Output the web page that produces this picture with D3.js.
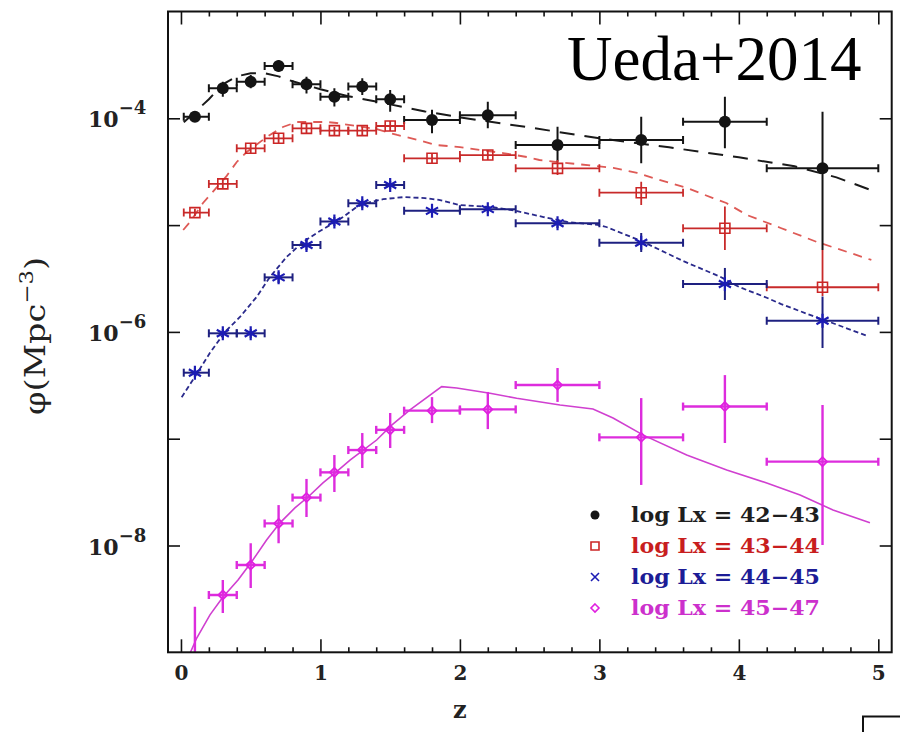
<!DOCTYPE html>
<html>
<head>
<meta charset="utf-8">
<script src="https://cdn.jsdelivr.net/npm/d3@7"></script>
<style>
  html, body { margin: 0; padding: 0; background: #fff; }
  svg { display: block; }
</style>
</head>
<body>
<svg id="chart" width="900" height="732"></svg>
<script>
// ---- redshift bins ----
const zMid = [0.1, 0.3, 0.5, 0.7, 0.9, 1.1, 1.3, 1.5, 1.8, 2.2, 2.7, 3.3, 3.9, 4.6];
const zLo  = [0.02, 0.2, 0.4, 0.6, 0.8, 1.0, 1.2, 1.4, 1.6, 2.0, 2.4, 3.0, 3.6, 4.2];
const zHi  = [0.2, 0.4, 0.6, 0.8, 1.0, 1.2, 1.4, 1.6, 2.0, 2.4, 3.0, 3.6, 4.2, 5.0];

// ---- space densities (Mpc^-3) with lower / upper error limits ----
// log Lx = 42-43
const phi4243   = [1.035e-4, 1.91e-4, 2.20e-4, 3.09e-4, 2.08e-4, 1.59e-4, 1.98e-4, 1.51e-4, 9.64e-5, 1.07e-4, 5.62e-5, 6.27e-5, 9.29e-5, 3.40e-5];
const phi4243Lo = [9.29e-5, 1.59e-4, 1.91e-4, 2.73e-4, 1.71e-4, 1.29e-4, 1.65e-4, 1.15e-4, 7.24e-5, 8.05e-5, 3.93e-5, 3.79e-5, 5.24e-5, 5.85e-6];
const phi4243Hi = [1.12e-4, 2.20e-4, 2.54e-4, 3.52e-4, 2.45e-4, 1.91e-4, 2.37e-4, 1.84e-4, 1.20e-4, 1.43e-4, 8.34e-5, 1.035e-4, 1.59e-4, 1.15e-4];

// log Lx = 43-44
const phi4344   = [1.31e-5, 2.43e-5, 5.24e-5, 6.50e-5, 8.05e-5, 7.66e-5, 7.66e-5, 8.47e-5, 4.22e-5, 4.53e-5, 3.40e-5, 2.01e-5, 9.33e-6, 2.62e-6];
const phi4344Lo = [1.22e-5, 2.18e-5, 4.73e-5, 5.87e-5, 7.28e-5, 6.98e-5, 6.98e-5, 7.60e-5, 3.81e-5, 4.07e-5, 2.94e-5, 1.54e-5, 5.85e-6, 2.17e-6];
const phi4344Hi = [1.42e-5, 2.70e-5, 5.74e-5, 7.13e-5, 8.85e-5, 8.29e-5, 8.29e-5, 9.44e-5, 4.63e-5, 5.05e-5, 4.07e-5, 2.55e-5, 1.49e-5, 5.85e-6];

// log Lx = 44-45
const phi4445   = [4.15e-7, 9.70e-7, 9.70e-7, 3.24e-6, 6.52e-6, 1.08e-5, 1.60e-5, 2.37e-5, 1.36e-5, 1.41e-5, 1.04e-5, 6.84e-6, 2.81e-6, 1.27e-6];
const phi4445Lo = [3.78e-7, 8.77e-7, 8.77e-7, 2.87e-6, 5.85e-6, 9.82e-6, 1.45e-5, 2.18e-5, 1.27e-5, 1.30e-5, 9.40e-6, 5.60e-6, 1.99e-6, 7.06e-7];
const phi4445Hi = [4.59e-7, 1.06e-6, 1.06e-6, 3.64e-6, 7.25e-6, 1.19e-5, 1.75e-5, 2.59e-5, 1.48e-5, 1.51e-5, 1.14e-5, 8.43e-6, 3.97e-6, 2.14e-6];

// log Lx = 45-47
const phi4547   = [4.5e-10, 3.44e-9, 6.56e-9, 1.61e-8, 2.81e-8, 4.84e-8, 7.83e-8, 1.21e-7, 1.83e-7, 1.88e-7, 3.18e-7, 1.03e-7, 2.00e-7, 6.10e-8];
const phi4547Lo = [1.0e-10, 2.33e-9, 4.00e-9, 1.05e-8, 1.85e-8, 3.17e-8, 5.32e-8, 8.18e-8, 1.40e-7, 1.23e-7, 2.21e-7, 3.69e-8, 9.12e-8, 1.01e-8];
const phi4547Hi = [2.67e-9, 4.75e-9, 1.05e-8, 2.39e-8, 4.20e-8, 7.03e-8, 1.13e-7, 1.74e-7, 2.45e-7, 2.74e-7, 4.59e-7, 2.40e-7, 3.94e-7, 2.07e-7];

// ---- model curves ----
const modelZ4243 = [0.02, 0.1, 0.2, 0.3, 0.4, 0.5, 0.6, 0.7, 0.8, 1.0, 1.2, 1.5, 1.75, 2.0, 2.5, 3.0, 3.5, 4.0, 4.4, 4.7, 4.95];
const model4243  = [9.2e-5, 1.14e-4, 1.51e-4, 2.08e-4, 2.47e-4, 2.64e-4, 2.64e-4, 2.47e-4, 2.22e-4, 1.87e-4, 1.61e-4, 1.35e-4, 1.16e-4, 1.02e-4, 8.2e-5, 6.5e-5, 5.35e-5, 4.31e-5, 3.55e-5, 2.80e-5, 2.12e-5];

const modelZ4344 = [0.016, 0.065, 0.158, 0.328, 0.40, 0.471, 0.615, 0.731, 0.83, 0.925, 1.045, 1.116, 1.40, 1.55, 1.70, 1.83, 2.0, 2.14, 2.31, 2.48, 2.57, 3.1, 3.27, 3.43, 3.63, 3.815, 3.91, 4.06, 4.3, 4.56, 4.8, 4.95];
const model4344  = [9.0e-6, 1.07e-5, 1.61e-5, 2.89e-5, 3.90e-5, 4.83e-5, 6.68e-5, 8.29e-5, 9.23e-5, 9.23e-5, 9.23e-5, 9.04e-5, 7.94e-5, 6.98e-5, 6.27e-5, 5.62e-5, 5.38e-5, 5.05e-5, 4.73e-5, 4.34e-5, 4.07e-5, 3.43e-5, 3.08e-5, 2.65e-5, 2.22e-5, 1.79e-5, 1.61e-5, 1.24e-5, 9.40e-6, 6.95e-6, 5.48e-6, 4.72e-6];

const modelZ4445 = [0.005, 0.10, 0.208, 0.316, 0.423, 0.543, 0.638, 0.758, 0.875, 0.973, 1.068, 1.162, 1.26, 1.355, 1.45, 1.6, 1.75, 1.85, 2.0, 2.22, 2.4, 2.6, 2.77, 3.0, 3.05, 3.3, 3.6, 3.87, 4.0, 4.2, 4.3, 4.53, 4.65, 4.92];
const model4445  = [2.45e-7, 3.80e-7, 6.37e-7, 1.00e-6, 1.38e-6, 2.13e-6, 3.27e-6, 5.04e-6, 6.95e-6, 8.43e-6, 1.00e-5, 1.19e-5, 1.48e-5, 1.64e-5, 1.75e-5, 1.83e-5, 1.79e-5, 1.72e-5, 1.54e-5, 1.48e-5, 1.36e-5, 1.19e-5, 1.07e-5, 1.00e-5, 9.60e-6, 7.10e-6, 4.61e-6, 3.27e-6, 2.64e-6, 2.09e-6, 1.83e-6, 1.41e-6, 1.24e-6, 9.18e-7];

const modelZ4547 = [0.04, 0.065, 0.113, 0.208, 0.301, 0.409, 0.507, 0.615, 0.71, 0.817, 0.913, 1.018, 1.116, 1.212, 1.307, 1.403, 1.511, 1.642, 1.869, 1.977, 2.216, 2.407, 2.718, 2.954, 3.098, 3.315, 3.626, 3.913, 4.2, 4.439, 4.675, 4.94];
const model4547  = [7.5e-10, 9.8e-10, 1.36e-9, 2.24e-9, 3.30e-9, 4.75e-9, 7.05e-9, 1.13e-8, 1.63e-8, 2.25e-8, 2.86e-8, 3.85e-8, 4.91e-8, 6.31e-8, 7.83e-8, 9.72e-8, 1.34e-7, 1.86e-7, 3.07e-7, 2.98e-7, 2.66e-7, 2.39e-7, 2.07e-7, 1.90e-7, 1.56e-7, 1.08e-7, 7.03e-8, 5.09e-8, 3.85e-8, 2.97e-8, 2.15e-8, 1.63e-8];

// ---- axis ticks and labels ----
const xMajorTicks = [0, 1, 2, 3, 4, 5];
const xMinorTicks = [0.2, 0.4, 0.6, 0.8, 1.2, 1.4, 1.6, 1.8, 2.2, 2.4, 2.6, 2.8, 3.2, 3.4, 3.6, 3.8, 4.2, 4.4, 4.6, 4.8];
const yTicks = [1e-8, 1e-7, 1e-6, 1e-5, 1e-4];
const yLabelTicks = [1e-4, 1e-6, 1e-8];
const yLabelExp = ["\u22124", "\u22126", "\u22128"];
const legendLabels = ["log Lx = 42\u221243", "log Lx = 43\u221244", "log Lx = 44\u221245", "log Lx = 45\u221247"];
const titleText = "Ueda+2014";

// ---- layout ----
const frame = { left: 168, right: 891.7, top: 11.5, bottom: 652.3 };
const labelFont = "'DejaVu Serif', 'Liberation Serif', serif";
const svg = d3.select("#chart");

const x = d3.scaleLinear().domain([-0.093, 5.096]).range([frame.left, frame.right]);
const y = d3.scaleLog().domain([1e-9, 1e-3]).range([frame.bottom, frame.top]);

svg.append("defs").append("clipPath").attr("id", "plotclip")
  .append("rect")
  .attr("x", frame.left).attr("y", frame.top)
  .attr("width", frame.right - frame.left).attr("height", frame.bottom - frame.top);

const plot = svg.append("g").attr("clip-path", "url(#plotclip)");

// series styling
const series = [
  { v: phi4243, lo: phi4243Lo, hi: phi4243Hi, mz: modelZ4243, m: model4243,
    marker: "circle", color: "#141414", bar: "#141414", line: "#1a1a1a", dash: "15,10", lw: 2.0, bw: 2.0, text: "#1e1e1e" },
  { v: phi4344, lo: phi4344Lo, hi: phi4344Hi, mz: modelZ4344, m: model4344,
    marker: "square", color: "#cc2626", bar: "#c82a2a", line: "#de5a56", dash: "9,7", lw: 1.8, bw: 1.8, text: "#c81e1e" },
  { v: phi4445, lo: phi4445Lo, hi: phi4445Hi, mz: modelZ4445, m: model4445,
    marker: "asterisk", color: "#1c1cb4", bar: "#1e2080", line: "#2a2a8c", dash: "5,3", lw: 1.8, bw: 2.0, text: "#1c1c96" },
  { v: phi4547, lo: phi4547Lo, hi: phi4547Hi, mz: modelZ4547, m: model4547,
    marker: "diamond", color: "#e020e0", bar: "#dd2cdd", line: "#d040d0", dash: null, lw: 1.6, bw: 2.4, text: "#cc30cc" }
];

// model curves
const lineGen = d3.line().x(d => x(d[0])).y(d => y(d[1]));
series.forEach(s => {
  const pts = s.mz.map((z, i) => [z, s.m[i]]);
  const p = plot.append("path")
    .attr("d", lineGen(pts))
    .attr("fill", "none")
    .attr("stroke", s.line)
    .attr("stroke-width", s.lw);
  if (s.dash) p.attr("stroke-dasharray", s.dash);
});

// marker shapes
function markerPath(type, r) {
  const p = d3.path();
  if (type === "square") {
    p.rect(-r, -r, 2 * r, 2 * r);
  } else if (type === "asterisk") {
    for (let k = 0; k < 3; k++) {
      const a = Math.PI / 2 + k * Math.PI / 3;
      p.moveTo(r * Math.cos(a), r * Math.sin(a));
      p.lineTo(-r * Math.cos(a), -r * Math.sin(a));
    }
  } else if (type === "times") {
    p.moveTo(-r, -r); p.lineTo(r, r);
    p.moveTo(-r, r); p.lineTo(r, -r);
  } else if (type === "diamond") {
    p.moveTo(0, -r); p.lineTo(r, 0); p.lineTo(0, r); p.lineTo(-r, 0); p.closePath();
  }
  return p.toString();
}

// error bars and markers
series.forEach(s => {
  const g = plot.append("g");
  zMid.forEach((z, i) => {
    const cy = y(s.v[i]);
    const cx = x(z);
    const xl = x(zLo[i]), xr = x(zHi[i]);
    // horizontal bin bar with end caps
    g.append("line").attr("x1", xl).attr("x2", xr).attr("y1", cy).attr("y2", cy)
      .attr("stroke", s.bar).attr("stroke-width", s.bw);
    [xl, xr].forEach(xc => g.append("line")
      .attr("x1", xc).attr("x2", xc).attr("y1", cy - 4).attr("y2", cy + 4)
      .attr("stroke", s.bar).attr("stroke-width", s.bw));
    // vertical error bar
    g.append("line").attr("x1", cx).attr("x2", cx)
      .attr("y1", y(s.hi[i])).attr("y2", y(s.lo[i]))
      .attr("stroke", s.bar).attr("stroke-width", s.bw);
    // marker
    if (s.marker === "circle") {
      g.append("circle").attr("cx", cx).attr("cy", cy).attr("r", 6).attr("fill", s.color);
    } else if (s.marker === "square") {
      g.append("path").attr("d", markerPath("square", 5)).attr("transform", `translate(${cx},${cy})`)
        .attr("fill", "none").attr("stroke", s.color).attr("stroke-width", 1.6);
    } else if (s.marker === "asterisk") {
      g.append("path").attr("d", markerPath("asterisk", 7)).attr("transform", `translate(${cx},${cy})`)
        .attr("fill", "none").attr("stroke", s.color).attr("stroke-width", 2.2);
    } else {
      g.append("path").attr("d", markerPath("diamond", 4.5)).attr("transform", `translate(${cx},${cy})`)
        .attr("fill", "none").attr("stroke", s.color).attr("stroke-width", 1.8);
    }
  });
});

// ---- axes (ticks point inward) ----
const axisStyle = g => {
  g.select(".domain").remove();
  g.selectAll(".tick line").attr("stroke", "#111").attr("stroke-width", 1.6);
};
svg.append("g").attr("transform", `translate(0,${frame.bottom})`)
  .call(d3.axisBottom(x).tickValues(xMajorTicks).tickSize(-13).tickPadding(14).tickFormat(d3.format("d")))
  .call(axisStyle)
  .call(g => g.selectAll("text").attr("font-family", labelFont)
    .attr("font-weight", "bold").attr("font-size", 20).attr("fill", "#222"));
svg.append("g").attr("transform", `translate(0,${frame.bottom})`)
  .call(d3.axisBottom(x).tickValues(xMinorTicks).tickSize(-5).tickFormat(""))
  .call(axisStyle);
svg.append("g").attr("transform", `translate(0,${frame.top})`)
  .call(d3.axisTop(x).tickValues(xMajorTicks).tickSize(-13).tickFormat(""))
  .call(axisStyle);
svg.append("g").attr("transform", `translate(0,${frame.top})`)
  .call(d3.axisTop(x).tickValues(xMinorTicks).tickSize(-5).tickFormat(""))
  .call(axisStyle);
svg.append("g").attr("transform", `translate(${frame.left},0)`)
  .call(d3.axisLeft(y).tickValues(yTicks).tickSize(-12).tickFormat(""))
  .call(axisStyle);
svg.append("g").attr("transform", `translate(${frame.right},0)`)
  .call(d3.axisRight(y).tickValues(yTicks).tickSize(-12).tickFormat(""))
  .call(axisStyle);

// y tick labels as 10^n
yLabelTicks.forEach((v, i) => {
  const t = svg.append("text")
    .attr("x", 88).attr("y", y(v) + 9)
    .attr("font-family", labelFont)
    .attr("font-weight", "bold").attr("fill", "#222");
  t.append("tspan").attr("font-size", 22).text("10");
  t.append("tspan").attr("font-size", 18).attr("dy", -13).text(yLabelExp[i]);
});

// frame
svg.append("rect")
  .attr("x", frame.left).attr("y", frame.top)
  .attr("width", frame.right - frame.left).attr("height", frame.bottom - frame.top)
  .attr("fill", "none").attr("stroke", "#111").attr("stroke-width", 2);

// axis titles
svg.append("text")
  .attr("x", x(2)).attr("y", 718)
  .attr("text-anchor", "middle")
  .attr("font-family", labelFont).attr("font-weight", "bold")
  .attr("font-size", 24).attr("fill", "#222")
  .text("z");

const yTitle = svg.append("text")
  .attr("transform", `translate(45,${(frame.top + frame.bottom) / 2 + 4}) rotate(-90)`)
  .attr("text-anchor", "middle")
  .attr("font-family", labelFont)
  .attr("font-size", 28).attr("fill", "#222")
  .attr("textLength", 158).attr("lengthAdjust", "spacingAndGlyphs");
yTitle.append("tspan").text("\u03c6(Mpc");
yTitle.append("tspan").attr("font-size", 19).attr("dy", -12).text("\u22123");
yTitle.append("tspan").attr("dy", 12).text(")");

// title
svg.append("text")
  .attr("x", 567).attr("y", 80)
  .attr("font-family", "'Liberation Serif', 'Times New Roman', serif")
  .attr("font-size", 63).attr("fill", "#000")
  .text(titleText);

// legend
const legendMarkers = ["circle", "square", "times", "diamond"];
const legendY0 = 515, legendDy = 31;
series.forEach((s, i) => {
  const ly = legendY0 + i * legendDy;
  const mk = legendMarkers[i];
  if (mk === "circle") {
    svg.append("circle").attr("cx", 595).attr("cy", ly).attr("r", 4.5).attr("fill", s.color);
  } else {
    svg.append("path").attr("d", markerPath(mk, 4))
      .attr("transform", `translate(595,${ly})`)
      .attr("fill", "none").attr("stroke", s.color).attr("stroke-width", 1.6);
  }
  svg.append("text")
    .attr("x", 631).attr("y", ly + 7)
    .attr("font-family", labelFont).attr("font-weight", "bold")
    .attr("font-size", 20).attr("fill", s.text)
    .attr("textLength", 189).attr("lengthAdjust", "spacingAndGlyphs")
    .text(legendLabels[i]);
});

// corner of adjacent panel at bottom right
svg.append("path")
  .attr("d", d3.line()([[863, 732], [863, 716.5], [900, 716.5]]))
  .attr("fill", "none").attr("stroke", "#111").attr("stroke-width", 2);
</script>
</body>
</html>
